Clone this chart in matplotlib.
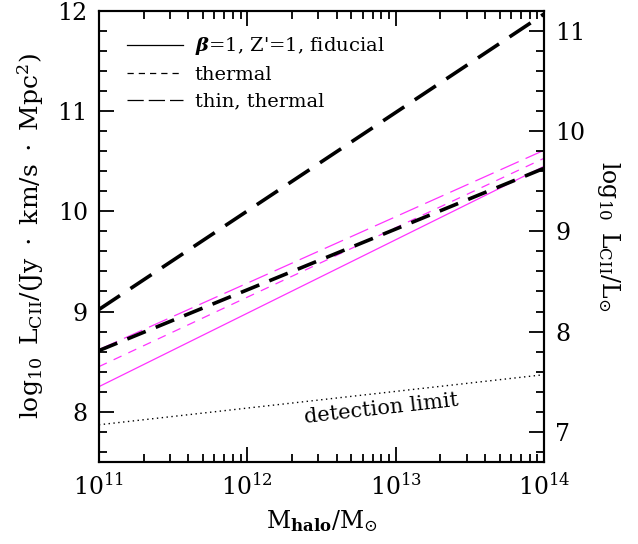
import numpy as np
import matplotlib
matplotlib.use("Agg")
import matplotlib.pyplot as plt

plt.rcParams['font.family'] = ['DejaVu Serif']
plt.rcParams['mathtext.fontset'] = 'dejavuserif'

# log10 halo mass at the two ends of each (straight) line
logm = [11.0, 14.0]

# black curves
blk_thin_thermal = [9.02, 11.97]
blk_thermal = [8.61, 10.43]
# magenta curves
mag_fiducial = [8.25, 10.45]
mag_thermal = [8.45, 10.53]
mag_thin_thermal = [8.62, 10.61]
# detection limit
det_limit = [7.87, 8.37]

offset = 0.8  # right axis = left - offset

legend_labels = [r"$\boldsymbol{\beta}$=1, Z'=1, fiducial", "thermal", "thin, thermal"]

mh = 10 ** np.array(logm)

fig = plt.figure(figsize=(6.38, 5.44), dpi=100)
ax = fig.add_axes([0.155, 0.151, 0.698, 0.829])

mag = '#ff33ff'
ax.plot(mh, blk_thin_thermal, color='k', lw=2.6, dashes=(7, 3.5))
ax.plot(mh, mag_fiducial, color=mag, lw=0.9)
ax.plot(mh, mag_thermal, color=mag, lw=0.9, dashes=(7, 6))
ax.plot(mh, mag_thin_thermal, color=mag, lw=0.9, dashes=(16, 6))
ax.plot(mh, blk_thermal, color='k', lw=2.6, dashes=(5.5, 3))
ax.plot(mh, det_limit, color='k', lw=1.0, dashes=(1, 2.5))

# legend handles
h1, = ax.plot([], [], color='k', lw=0.9, label=legend_labels[0])
h2, = ax.plot([], [], color='k', lw=0.9, dashes=(5, 4), label=legend_labels[1])
h3, = ax.plot([], [], color='k', lw=0.9, dashes=(13, 4), label=legend_labels[2])
ax.legend(handles=[h1, h2, h3], loc='upper left', frameon=False, fontsize=14,
          handlelength=2.9, handletextpad=0.6, labelspacing=0.45,
          bbox_to_anchor=(0.045, 0.963), borderaxespad=0.0)

ax.text(10 ** 12.9, 8.03, 'detection limit', rotation=6.4, fontsize=15,
        ha='center', va='center')

ax.set_xscale('log')
ax.set_xlim(1e11, 1e14)
ax.set_ylim(7.5, 12)
ax.set_yticks([8, 9, 10, 11, 12])
ax.set_yticks(np.arange(7.6, 12.0, 0.2), minor=True)

for sp in ax.spines.values():
    sp.set_linewidth(1.5)
ax.tick_params(which='both', direction='in', top=True, right=False, width=1.3,
               labelsize=17)
ax.tick_params(which='major', length=11, pad=8)
ax.tick_params(which='minor', length=6)

ax.set_xlabel(r'$\mathrm{M}_{\mathsf{\mathbf{halo}}}/\mathrm{M}_{\odot}$', fontsize=17, labelpad=6)
ax.set_ylabel(r'$\log_{10}\ \mathrm{L_{CII}/(Jy\ \cdot\ km/s\ \cdot\ Mpc^{2})}$',
              fontsize=18, labelpad=8)

ax2 = ax.twinx()
ax2.set_ylim(7.5 - offset, 12 - offset)
ax2.set_yticks([7, 8, 9, 10, 11])
ax2.set_yticks(np.arange(6.8, 11.2, 0.2), minor=True)
ax2.tick_params(which='both', direction='in', width=1.3, labelsize=17)
ax2.tick_params(which='major', length=11, pad=8)
ax2.tick_params(which='minor', length=6)
for sp in ax2.spines.values():
    sp.set_linewidth(1.5)
ax2.set_ylabel(r'$\log_{10}\ \mathrm{L_{CII}/L_{\odot}}$', fontsize=17,
               rotation=270, labelpad=26)

fig.savefig('out.png', dpi=100)
